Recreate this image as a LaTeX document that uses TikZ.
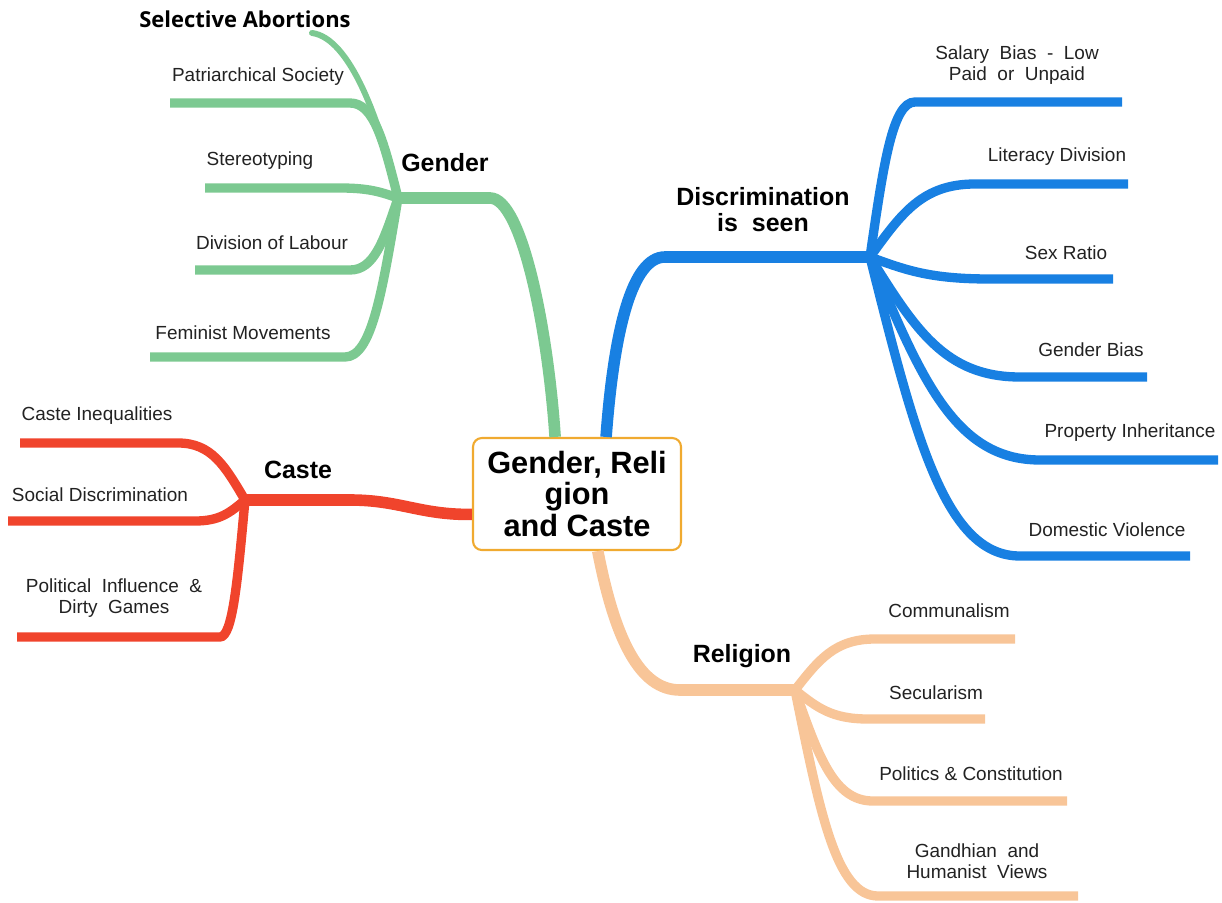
\documentclass[tikz,border=0pt]{standalone}
\usepackage{fontspec}
\setmainfont{Liberation Sans}
\newfontfamily\headfont{Open Sans}
\usepackage{tikz}
\usetikzlibrary{calc}
\definecolor{gendergreen}{RGB}{124,201,145}
\definecolor{discblue}{RGB}{24,128,226}
\definecolor{castered}{RGB}{240,68,44}
\definecolor{religpeach}{RGB}{248,197,152}
\definecolor{rootorange}{RGB}{240,170,48}
\definecolor{leafgrey}{RGB}{34,34,34}
\tikzset{
  base/.style={inner sep=1pt, align=center},
  leaf/.style={base, font=\fontsize{10.8}{12}\selectfont, text=leafgrey},
  topic/.style={base, font=\fontsize{14.2}{14.8}\selectfont\bfseries, text=black},
  root/.style={base, rectangle, rounded corners=5pt, draw=rootorange, fill=white, line width=1.2pt,
    minimum width=4.16cm, minimum height=2.24cm, font=\fontsize{17.5}{18}\selectfont\bfseries},
  twig/.style={line width=5.3pt, line cap=butt, draw=#1},
  limb/.style={line width=6.6pt, line cap=butt, draw=#1},
  knot/.style={fill=#1},
}

\begin{document}
\begin{tikzpicture}[x=0.02cm,y=-0.02cm]
  \useasboundingbox (0,0) rectangle (1222,902);
  \node[root] (root) at (577,494) {Gender, Reli\\gion\\and Caste};
  % hubs and knees of the four limbs
  \coordinate (gh) at (398,198);
  \coordinate (bh) at (870,257);
  \coordinate (ch) at (245,500);
  \coordinate (rh) at (795,690);
  \coordinate (gk) at (490,198);
  \coordinate (bk) at (665,257);
  \coordinate (ck) at (350,500);
  \coordinate (rk) at (680,690);
  \draw[limb=gendergreen] (root.111) .. controls (548,330) and (522,198) .. (gk) -- (gh);
  \draw[limb=discblue] (root.63) .. controls (614,330) and (632,257) .. (bk) -- (bh);
  \draw[limb=castered] (root.191) .. controls (420,515) and (400,500) .. (ck) -- (ch);
  \draw[limb=religpeach] (root.290) .. controls (615,640) and (640,690) .. (rk) -- (rh);
  \node[topic] (gender) at (445,163) {Gender};
  \node[topic] (disc) at (763,210) {Discrimination\\is\ \ seen};
  \node[topic] (caste) at (298,470) {Caste};
  \node[topic] (relig) at (742,656) {Religion};

  % gender
  \coordinate (sa) at (312,33);
  \draw[gendergreen, line width=3.4pt, line cap=round] (gh) .. controls (380,120) and (350,38) .. (sa);
  \node[base, font=\headfont\fontsize{12.5}{13}\selectfont\bfseries] (satxt) at (245,19) {Selective Abortions};
  \foreach \i/\bx/\by/\ex/\lx/\ly/\txt in {1/350/103/170/258/77/{Patriarchical Society},
                                         2/340/188/205/260/161/{Stereotyping},
                                         3/350/270/195/272/243/{Division of Labour},
                                         4/345/357/150/243/333/{Feminist Movements}}{
    \coordinate (gb\i) at (\bx,\by);
    \coordinate (ge\i) at (\ex,\by);
    \draw[twig=gendergreen] (gh) .. controls ({398+0.3*(\bx-398)},{198+0.6*(\by-198)}) and ({\bx-0.5*(\bx-398)},\by) .. (gb\i) -- (ge\i);
    \node[leaf] (gt\i) at (\lx,\ly) {\txt};
  }
  \fill[knot=gendergreen] (gh) circle (3pt);

  % discrimination
  \foreach \i/\bx/\by/\ex/\lx/\ly/\txt in {1/915/102/1122/1017/65/{Salary\ \ Bias\ \ -\ \ Low\\Paid\ \ or\ \ Unpaid},
                                         2/975/184/1128/1057/157/{Literacy Division},
                                         3/990/279/1113/1066/253/{Sex Ratio},
                                         4/1020/377/1147/1091/350/{Gender Bias},
                                         5/1040/460/1218/1130/433/{Property Inheritance},
                                         6/1020/556/1190/1107/530/{Domestic Violence}}{
    \coordinate (bb\i) at (\bx,\by);
    \coordinate (be\i) at (\ex,\by);
    \draw[twig=discblue] (bh) .. controls ({870+0.3*(\bx-870)},{257+0.6*(\by-257)}) and ({\bx-0.5*(\bx-870)},\by) .. (bb\i) -- (be\i);
    \node[leaf] (bt\i) at (\lx,\ly) {\txt};
  }
  \fill[knot=discblue] (bh) circle (3pt);

  % caste
  \foreach \i/\bx/\by/\ex/\lx/\ly/\txt in {1/178/443/20/97/416/{Caste Inequalities},
                                         2/195/521/8/100/495/{Social Discrimination},
                                         3/220/637/17/114/598/{Political\ \ Influence\ \ \&\\Dirty\ \ Games}}{
    \coordinate (cb\i) at (\bx,\by);
    \coordinate (ce\i) at (\ex,\by);
    \draw[twig=castered] (ch) .. controls ({245+0.3*(\bx-245)},{500+0.6*(\by-500)}) and ({\bx-0.5*(\bx-245)},\by) .. (cb\i) -- (ce\i);
    \node[leaf] (ct\i) at (\lx,\ly) {\txt};
  }
  \fill[knot=castered] (ch) circle (3pt);

  % religion
  \foreach \i/\bx/\by/\ex/\lx/\ly/\txt in {1/875/639/1015/949/611/{Communalism},
                                         2/868/719/985/936/693/{Secularism},
                                         3/873/801/1067/971/774/{Politics \& Constitution},
                                         4/878/896/1078/977/861/{Gandhian\ \ and\\Humanist\ \ Views}}{
    \coordinate (rb\i) at (\bx,\by);
    \coordinate (re\i) at (\ex,\by);
    \draw[twig=religpeach] (rh) .. controls ({795+0.3*(\bx-795)},{690+0.6*(\by-690)}) and ({\bx-0.5*(\bx-795)},\by) .. (rb\i) -- (re\i);
    \node[leaf] (rt\i) at (\lx,\ly) {\txt};
  }
  \fill[knot=religpeach] (rh) circle (3pt);
\end{tikzpicture}
\end{document}
